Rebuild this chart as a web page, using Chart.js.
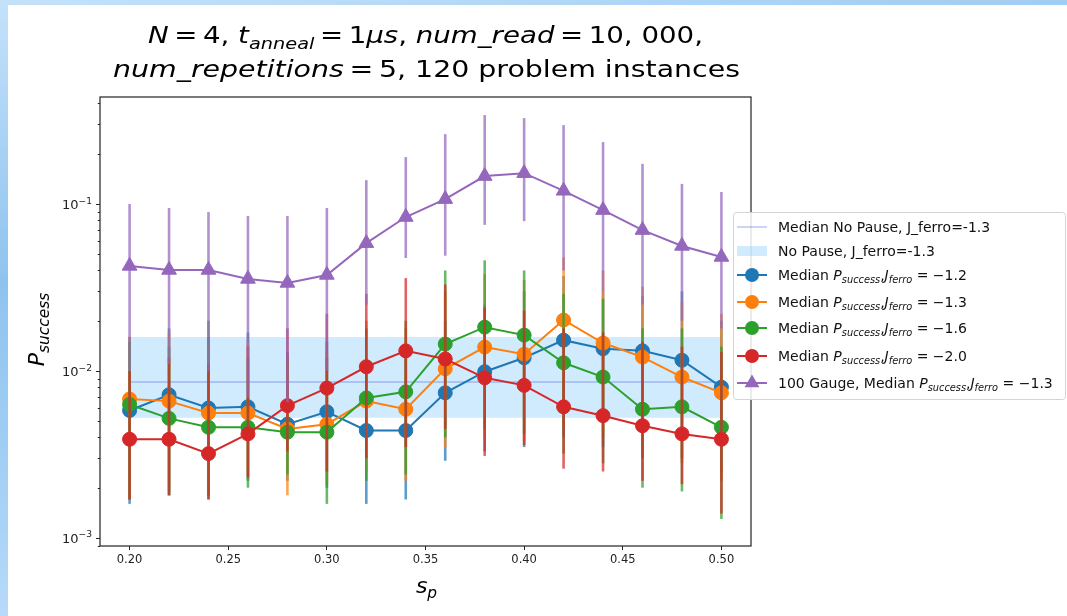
<!DOCTYPE html>
<html>
<head>
<meta charset="utf-8">
<script src="https://cdn.jsdelivr.net/npm/chart.js@4.4.1/dist/chart.umd.min.js"></script>
<style>
  html, body { margin: 0; padding: 0; width: 1067px; height: 616px; overflow: hidden; }
  body { background: linear-gradient(170deg, #c4e2fa 0%, #8fc3ee 35%, #a9d3f6 65%, #d2e8fb 100%); }
  #wrap { position: absolute; left: 8px; top: 5px; width: 1059px; height: 611px; background: #fff; }
</style>
</head>
<body>
<div id="wrap"><canvas id="chart"></canvas></div>
<script>
// pause location s_p
const sp = [0.20, 0.22, 0.24, 0.26, 0.28, 0.30, 0.32, 0.34, 0.36, 0.38, 0.40, 0.42, 0.44, 0.46, 0.48, 0.50];

// median P_success per J_ferro, with lower / upper error bar ends
const medJ12 = [0.0058, 0.0072, 0.0060, 0.0061, 0.0048, 0.0057, 0.0044, 0.0044, 0.0074, 0.0099, 0.0120, 0.0153, 0.0136, 0.0132, 0.0116, 0.0080];
const loJ12  = [0.0016, 0.0018, 0.0018, 0.0022, 0.0022, 0.0020, 0.0016, 0.0017, 0.0029, 0.0033, 0.0035, 0.0040, 0.0035, 0.0030, 0.0030, 0.0025];
const hiJ12  = [0.016, 0.018, 0.016, 0.017, 0.013, 0.015, 0.012, 0.012, 0.020, 0.025, 0.030, 0.037, 0.030, 0.028, 0.030, 0.020];

const medJ13 = [0.0068, 0.0066, 0.0056, 0.0056, 0.0045, 0.0048, 0.0066, 0.0059, 0.0103, 0.0139, 0.0126, 0.0202, 0.0147, 0.0121, 0.0092, 0.0074];
const loJ13  = [0.0017, 0.0019, 0.0018, 0.0023, 0.0018, 0.0021, 0.0025, 0.0022, 0.0035, 0.0040, 0.0038, 0.0045, 0.0040, 0.0032, 0.0028, 0.0022];
const hiJ13  = [0.016, 0.017, 0.015, 0.015, 0.012, 0.013, 0.020, 0.018, 0.030, 0.038, 0.035, 0.048, 0.040, 0.032, 0.026, 0.022];

const medJ16 = [0.0063, 0.0052, 0.0046, 0.0046, 0.0043, 0.0043, 0.0069, 0.0075, 0.0145, 0.0183, 0.0164, 0.0112, 0.0092, 0.0059, 0.0061, 0.0046];
const loJ16  = [0.0017, 0.0018, 0.0017, 0.0020, 0.0024, 0.0016, 0.0022, 0.0024, 0.0040, 0.0045, 0.0042, 0.0032, 0.0028, 0.0020, 0.0019, 0.0013];
const hiJ16  = [0.015, 0.014, 0.020, 0.012, 0.012, 0.012, 0.018, 0.020, 0.040, 0.046, 0.040, 0.029, 0.027, 0.018, 0.018, 0.014];

const medJ20 = [0.0039, 0.0039, 0.0032, 0.0042, 0.0062, 0.0079, 0.0106, 0.0132, 0.0118, 0.0091, 0.0082, 0.0061, 0.0054, 0.0047, 0.0042, 0.0039];
const loJ20  = [0.0017, 0.0018, 0.0017, 0.0023, 0.0033, 0.0025, 0.0030, 0.0035, 0.0045, 0.0031, 0.0036, 0.0026, 0.0025, 0.0022, 0.0021, 0.0014];
const hiJ20  = [0.010, 0.012, 0.011, 0.014, 0.018, 0.022, 0.029, 0.036, 0.033, 0.024, 0.023, 0.018, 0.017, 0.015, 0.014, 0.013];

// 100 gauge run, J_ferro = -1.3
const medGauge = [0.0426, 0.0403, 0.0403, 0.0356, 0.0337, 0.0376, 0.0583, 0.0836, 0.107, 0.147, 0.153, 0.120, 0.092, 0.0698, 0.0561, 0.0482];
const loGauge  = [0.010, 0.011, 0.010, 0.007, 0.0065, 0.010, 0.025, 0.0475, 0.049, 0.075, 0.079, 0.040, 0.030, 0.025, 0.020, 0.018];
const hiGauge  = [0.100, 0.0946, 0.0895, 0.0847, 0.0847, 0.0946, 0.139, 0.191, 0.262, 0.341, 0.327, 0.297, 0.235, 0.174, 0.132, 0.118];

// no pause reference, J_ferro = -1.3
const noPauseX = [0.20, 0.50];
const noPauseMedian = 0.0086;
const noPauseLow = 0.00524;
const noPauseHigh = 0.016;

const xTicks = [0.20, 0.25, 0.30, 0.35, 0.40, 0.45, 0.50];
const yMajor = [1e-3, 1e-2, 1e-1];

const FONT = '"DejaVu Sans", "Liberation Sans", sans-serif';
const C = { blue: '#1f77b4', orange: '#ff7f0e', green: '#2ca02c', red: '#d62728', purple: '#9467bd' };
const TS = '\u2009'; // thin space, like mathtext around "="

const pts = (ys) => sp.map((x, i) => ({ x: x, y: ys[i] }));
const flat = (v) => noPauseX.map(x => ({ x: x, y: v }));

function rgba(hex, a) {
    const n = parseInt(hex.slice(1), 16);
    return 'rgba(' + (n >> 16) + ',' + ((n >> 8) & 255) + ',' + (n & 255) + ',' + a + ')';
}

function series(label, color, med, lo, hi, style, order) {
    return {
        label: label, data: pts(med), errLo: lo, errHi: hi,
        borderColor: color, backgroundColor: color, borderWidth: 2,
        pointStyle: style, pointRadius: style === 'triangle' ? 8.5 : 7,
        pointBackgroundColor: color, pointBorderColor: color, pointBorderWidth: 1,
        fill: false, order: order
    };
}

// --- rich text with italics and sub/superscripts ---
function segFont(s, size) {
    const sz = (s.sub || s.sup) ? size * 0.7 : size;
    return (s.it ? 'oblique ' : '') + sz + 'px ' + FONT;
}
function richWidth(ctx, segs, size) {
    let w = 0;
    for (const s of segs) { ctx.font = segFont(s, size); w += ctx.measureText(s.t).width; }
    return w;
}
function drawRich(ctx, segs, x, y, size, align, sx) {
    sx = sx || 1;
    const w = richWidth(ctx, segs, size) * sx;
    const x0 = align === 'center' ? x - w / 2 : (align === 'right' ? x - w : x);
    ctx.save();
    ctx.translate(x0, y);
    ctx.scale(sx, 1);
    ctx.textAlign = 'left';
    ctx.textBaseline = 'alphabetic';
    let px = 0;
    for (const s of segs) {
        ctx.font = segFont(s, size);
        const dy = s.sub ? size * 0.24 : (s.sup ? -size * 0.42 : 0);
        ctx.fillText(s.t, px, dy);
        px += ctx.measureText(s.t).width;
    }
    ctx.restore();
}

const pSucc = (val) => [
    { t: 'P', it: 1 }, { t: 'success', it: 1, sub: 1 }, { t: ',' },
    { t: 'J', it: 1 }, { t: 'ferro', it: 1, sub: 1 }, { t: ' = \u2212' + val }
];

const legendRows = [
    { kind: 'line', segs: [{ t: 'Median No Pause, J_ferro=-1.3' }] },
    { kind: 'patch', segs: [{ t: 'No Pause, J_ferro=-1.3' }] },
    { kind: 'circle', color: C.blue, segs: [{ t: 'Median ' }].concat(pSucc('1.2')) },
    { kind: 'circle', color: C.orange, segs: [{ t: 'Median ' }].concat(pSucc('1.3')) },
    { kind: 'circle', color: C.green, segs: [{ t: 'Median ' }].concat(pSucc('1.6')) },
    { kind: 'circle', color: C.red, segs: [{ t: 'Median ' }].concat(pSucc('2.0')) },
    { kind: 'triangle', color: C.purple, segs: [{ t: '100 Gauge, Median ' }].concat(pSucc('1.3')) }
];
const legendRowY = [222, 246, 270, 297, 323, 351, 378];

// error bars drawn just before each series so layering follows plot order
const errorBars = {
    id: 'errorBars',
    beforeDatasetDraw(chart, args) {
        const ds = chart.data.datasets[args.index];
        if (!ds.errLo) return;
        const ctx = chart.ctx, xs = chart.scales.x, ys = chart.scales.y;
        ctx.save();
        ctx.strokeStyle = rgba(ds.borderColor, 0.72);
        ctx.lineWidth = 2.6;
        ds.data.forEach((p, i) => {
            const x = xs.getPixelForValue(p.x);
            ctx.beginPath();
            ctx.moveTo(x, ys.getPixelForValue(ds.errLo[i]));
            ctx.lineTo(x, ys.getPixelForValue(ds.errHi[i]));
            ctx.stroke();
        });
        ctx.restore();
    }
};

const decor = {
    id: 'decor',
    afterDraw(chart) {
        const ctx = chart.ctx, a = chart.chartArea, ys = chart.scales.y;
        ctx.save();
        // frame
        ctx.strokeStyle = '#222';
        ctx.lineWidth = 1.2;
        ctx.strokeRect(a.left, a.top, a.right - a.left, a.bottom - a.top);

        // log y ticks
        ctx.lineWidth = 1;
        for (let e = -4; e <= 0; e++) {
            for (let k = 1; k <= 9; k++) {
                const v = k * Math.pow(10, e);
                if (v < ys.min || v > ys.max) continue;
                const y = Math.round(ys.getPixelForValue(v)) + 0.5;
                ctx.beginPath();
                ctx.moveTo(a.left, y);
                ctx.lineTo(a.left - (k === 1 ? 4 : 2.2), y);
                ctx.stroke();
            }
        }
        ctx.fillStyle = '#222';
        yMajor.forEach(v => {
            const y = ys.getPixelForValue(v);
            const e = Math.round(Math.log10(v));
            drawRich(ctx, [{ t: '10' }, { t: '\u2212' + Math.abs(e), sup: 1 }], a.left - 8, y + 5, 13, 'right');
        });

        // title
        ctx.fillStyle = '#000';
        const cx = (a.left + a.right) / 2;
        const t1 = [{ t: 'N', it: 1 }, { t: TS + '=' + TS + '4, ' }, { t: 't', it: 1 }, { t: 'anneal', it: 1, sub: 1 },
            { t: TS + '=' + TS + '1' }, { t: '\u03bcs', it: 1 }, { t: ', ' }, { t: 'num_read', it: 1 },
            { t: TS + '=' + TS + '10, 000,' }];
        const t2 = [{ t: 'num_repetitions', it: 1 }, { t: TS + '=' + TS + '5, 120 problem instances' }];
        const w1 = richWidth(ctx, t1, 23), w2 = richWidth(ctx, t2, 23);
        drawRich(ctx, t1, cx, 38, 23, 'center', 555 / w1);
        drawRich(ctx, t2, cx + 1, 71.5, 23, 'center', 627 / w2);

        // axis titles
        drawRich(ctx, [{ t: 's', it: 1 }, { t: 'p', it: 1, sub: 1 }], cx + 1, 588, 22, 'center');
        ctx.save();
        ctx.translate(36, (a.top + a.bottom) / 2 + 8);
        ctx.rotate(-Math.PI / 2);
        drawRich(ctx, [{ t: 'P', it: 1 }, { t: 'success', it: 1, sub: 1 }], 0, 0, 22, 'center');
        ctx.restore();

        // legend
        const L = 725, T = 207, R = 1057, B = 394;
        ctx.fillStyle = 'rgba(255,255,255,0.85)';
        ctx.strokeStyle = '#d4d4d4';
        ctx.lineWidth = 1;
        ctx.beginPath();
        ctx.roundRect(L + 0.5, T + 0.5, R - L, B - T, 3);
        ctx.fill();
        ctx.stroke();
        legendRows.forEach((row, i) => {
            const y = legendRowY[i];
            if (row.kind === 'line') {
                ctx.strokeStyle = 'rgba(60,80,220,0.25)';
                ctx.lineWidth = 2;
                ctx.beginPath(); ctx.moveTo(729, y); ctx.lineTo(759, y); ctx.stroke();
            } else if (row.kind === 'patch') {
                ctx.fillStyle = 'rgba(135,206,250,0.4)';
                ctx.fillRect(729, y - 5, 30, 10);
            } else {
                ctx.strokeStyle = row.color;
                ctx.fillStyle = row.color;
                ctx.lineWidth = 2;
                ctx.beginPath(); ctx.moveTo(729, y); ctx.lineTo(759, y); ctx.stroke();
                ctx.beginPath();
                if (row.kind === 'circle') {
                    ctx.arc(744, y, 7, 0, Math.PI * 2);
                } else {
                    ctx.moveTo(744, y - 8.5);
                    ctx.lineTo(744 - 7.4, y + 4.3);
                    ctx.lineTo(744 + 7.4, y + 4.3);
                    ctx.closePath();
                }
                ctx.fill();
            }
            ctx.fillStyle = '#111';
            drawRich(ctx, row.segs, 770, y + 5, 14, 'left');
        });
        ctx.restore();
    }
};

const ctx = document.getElementById('chart').getContext('2d');
new Chart(ctx, {
    type: 'line',
    data: {
        datasets: [
            { label: 'band high', data: flat(noPauseHigh), borderColor: 'transparent', borderWidth: 0, pointRadius: 0, fill: false, order: 7 },
            { label: 'No Pause, J_ferro=-1.3', data: flat(noPauseLow), borderColor: 'transparent', borderWidth: 0, pointRadius: 0,
              fill: '-1', backgroundColor: 'rgba(135,206,250,0.4)', order: 6 },
            { label: 'Median No Pause, J_ferro=-1.3', data: flat(noPauseMedian), borderColor: 'rgba(60,80,220,0.25)', borderWidth: 2,
              pointRadius: 0, fill: false, order: 5 },
            series('J_ferro=-1.2', C.blue, medJ12, loJ12, hiJ12, 'circle', 4),
            series('J_ferro=-1.3', C.orange, medJ13, loJ13, hiJ13, 'circle', 3),
            series('J_ferro=-1.6', C.green, medJ16, loJ16, hiJ16, 'circle', 2),
            series('J_ferro=-2.0', C.red, medJ20, loJ20, hiJ20, 'circle', 1),
            series('100 Gauge', C.purple, medGauge, loGauge, hiGauge, 'triangle', 0)
        ]
    },
    options: {
        responsive: true,
        maintainAspectRatio: false,
        animation: false,
        layout: { padding: { left: 0, top: 92, right: 316, bottom: 0 } },
        plugins: {
            legend: { display: false },
            tooltip: { enabled: false },
            title: { display: false }
        },
        scales: {
            x: {
                type: 'linear',
                min: 0.185,
                max: 0.515,
                afterBuildTicks: (s) => { s.ticks = xTicks.map(v => ({ value: v })); },
                ticks: {
                    callback: (v) => Number(v).toFixed(2),
                    font: { family: FONT, size: 11.5 },
                    color: '#222',
                    padding: 3,
                    maxRotation: 0,
                    autoSkip: false
                },
                grid: { drawOnChartArea: false, tickLength: 4, color: '#222' },
                border: { display: false },
                afterFit: (s) => { s.height = 70; }
            },
            y: {
                type: 'logarithmic',
                min: 0.000895,
                max: 0.4375,
                ticks: { display: false },
                grid: { display: false },
                border: { display: false },
                afterFit: (s) => { s.width = 92; }
            }
        }
    },
    plugins: [errorBars, decor]
});
</script>
</body>
</html>
